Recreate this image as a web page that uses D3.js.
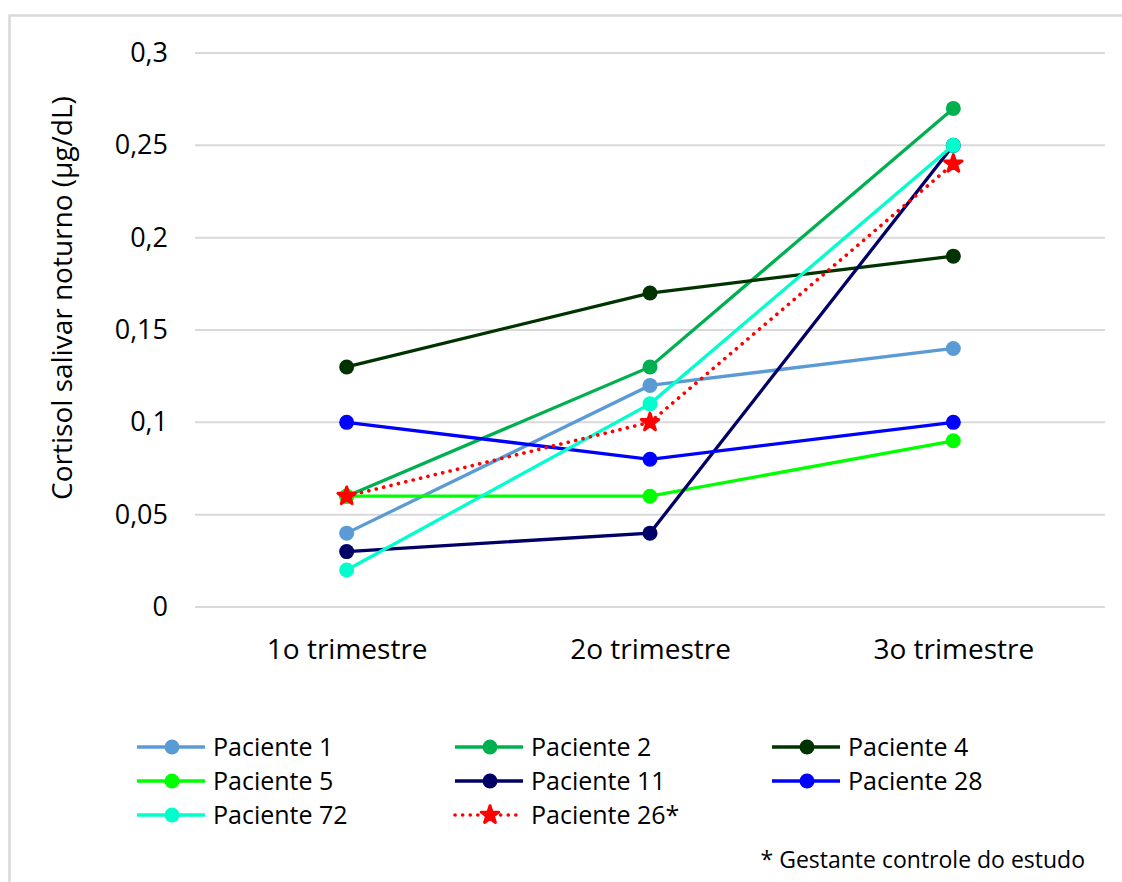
<!DOCTYPE html>
<html>
<head>
<meta charset="utf-8">
<script src="https://cdn.jsdelivr.net/npm/d3@7"></script>
<style>
  html, body { margin: 0; padding: 0; background: #fff; }
  svg { display: block; font-family: "Open Sans", sans-serif; }
</style>
</head>
<body>
<svg id="chart" width="1122" height="882"></svg>
<script>
// Trimesters on the x axis
const trimesters = ["1o trimestre", "2o trimestre", "3o trimestre"];

// Night-time salivary cortisol (µg/dL) per patient
const paciente1  = [0.04, 0.12, 0.14];
const paciente2  = [0.06, 0.13, 0.27];
const paciente4  = [0.13, 0.17, 0.19];
const paciente5  = [0.06, 0.06, 0.09];
const paciente11 = [0.03, 0.04, 0.25];
const paciente28 = [0.10, 0.08, 0.10];
const paciente72 = [0.02, 0.11, 0.25];
const paciente26 = [0.06, 0.10, 0.24];

const yTicks = [0, 0.05, 0.1, 0.15, 0.2, 0.25, 0.3];
const yTickLabels = ["0", "0,05", "0,1", "0,15", "0,2", "0,25", "0,3"];

const series = [
  { name: "Paciente 1",   values: paciente1,  color: "#5b9bd5" },
  { name: "Paciente 2",   values: paciente2,  color: "#00b050" },
  { name: "Paciente 4",   values: paciente4,  color: "#003300" },
  { name: "Paciente 5",   values: paciente5,  color: "#00ff00" },
  { name: "Paciente 11",  values: paciente11, color: "#000066" },
  { name: "Paciente 28",  values: paciente28, color: "#0000ff" },
  { name: "Paciente 72",  values: paciente72, color: "#00ffcc" },
  { name: "Paciente 26*", values: paciente26, color: "#ff0000", dotted: true }
];

const svg = d3.select("#chart");

// Outer chart frame
svg.append("rect")
  .attr("x", 9.5).attr("y", 15.5)
  .attr("width", 1130).attr("height", 900)
  .attr("fill", "none").attr("stroke", "#d9d9d9").attr("stroke-width", 2.5);

const plot = { left: 195, right: 1105, top: 53, bottom: 607 };

const x = d3.scalePoint().domain(trimesters)
  .range([plot.left, plot.right]).padding(0.5);
const y = d3.scaleLinear().domain([0, 0.3]).range([plot.bottom, plot.top]);

// Horizontal gridlines
svg.append("g")
  .selectAll("line").data(yTicks).join("line")
  .attr("x1", plot.left).attr("x2", plot.right)
  .attr("y1", d => y(d)).attr("y2", d => y(d))
  .attr("stroke", "#d9d9d9").attr("stroke-width", 2);

// Y axis tick labels
const yAxis = d3.axisLeft(y).tickValues(yTicks)
  .tickFormat((d, i) => yTickLabels[i]).tickSize(0).tickPadding(0);
const yg = svg.append("g").attr("transform", `translate(${plot.left - 27},0)`).call(yAxis);
yg.select(".domain").remove();
yg.selectAll("text").attr("font-size", 27).attr("fill", "#000")
  .attr("font-family", "Open Sans, sans-serif");

// X axis category labels
const xAxis = d3.axisBottom(x).tickSize(0).tickPadding(0);
const xg = svg.append("g").attr("transform", `translate(0,${plot.bottom + 32})`).call(xAxis);
xg.select(".domain").remove();
xg.selectAll("text").attr("font-size", 28).attr("fill", "#000")
  .attr("font-family", "Open Sans, sans-serif");

// Y axis title
svg.append("text")
  .attr("transform", `translate(72,${(plot.top + plot.bottom) / 2 - 32}) rotate(-90)`)
  .attr("text-anchor", "middle")
  .attr("font-size", 28).attr("fill", "#000")
  .text("Cortisol salivar noturno (µg/dL)");

const line = d3.line()
  .x((d, i) => x(trimesters[i]))
  .y(d => y(d));

const star = d3.symbol().type(d3.symbolStar).size(95);

function drawMarker(g, s, cx, cy) {
  if (s.dotted) {
    g.append("path").attr("d", star)
      .attr("transform", `translate(${cx},${cy})`)
      .attr("fill", s.color).attr("stroke", s.color).attr("stroke-width", 3)
      .attr("stroke-linejoin", "round");
  } else {
    g.append("circle").attr("cx", cx).attr("cy", cy).attr("r", 7.5)
      .attr("fill", s.color);
  }
}

// Series lines with markers
series.forEach(s => {
  const g = svg.append("g");
  g.append("path").datum(s.values)
    .attr("d", line)
    .attr("fill", "none")
    .attr("stroke", s.color)
    .attr("stroke-width", s.dotted ? 3.6 : 3.3)
    .attr("stroke-dasharray", s.dotted ? "0.1,7.5" : null)
    .attr("stroke-linecap", s.dotted ? "round" : "butt");
  s.values.forEach((v, i) => drawMarker(g, s, x(trimesters[i]), y(v)));
});

// Legend, three columns
const legCols = [137, 455, 772];
const legRows = [747, 781, 815];
series.forEach((s, i) => {
  const cx = legCols[i % 3];
  const cy = legRows[Math.floor(i / 3)];
  const g = svg.append("g");
  g.append("line")
    .attr("x1", cx).attr("x2", cx + 68)
    .attr("y1", cy).attr("y2", cy)
    .attr("stroke", s.color).attr("stroke-width", s.dotted ? 3.6 : 3.3)
    .attr("stroke-dasharray", s.dotted ? "0.1,7.5" : null)
    .attr("stroke-linecap", s.dotted ? "round" : "butt");
  drawMarker(g, s, cx + 35, cy);
  g.append("text")
    .attr("x", cx + 76).attr("y", cy + 9)
    .attr("font-size", 25).attr("fill", "#000")
    .text(s.name);
});

// Footnote
svg.append("text")
  .attr("x", 1085).attr("y", 868)
  .attr("text-anchor", "end")
  .attr("font-size", 23).attr("fill", "#000")
  .text("* Gestante controle do estudo");
</script>
</body>
</html>
